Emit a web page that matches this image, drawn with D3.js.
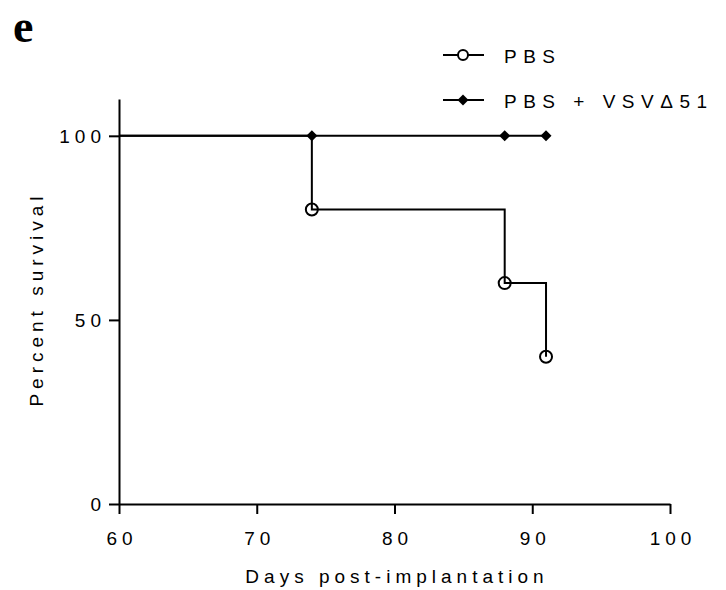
<!DOCTYPE html>
<html>
<head>
<meta charset="utf-8">
<script src="https://cdn.jsdelivr.net/npm/d3@7"></script>
<style>
  body { margin: 0; background: #fff; }
  svg { display: block; }
  text { font-family: "Liberation Sans", Arial, sans-serif; fill: #000; }
</style>
</head>
<body>
<script>
// survival data (Kaplan-Meier steps)
const pbsDays = [60, 74, 88, 91];
const pbsSurvival = [100, 80, 60, 40];
const vsvDays = [60, 74, 88, 91];
const vsvSurvival = [100, 100, 100, 100];

const xTicks = [60, 70, 80, 90, 100];
const yTicks = [0, 50, 100];
const seriesNames = ["PBS", "PBS + VSV\u039451"];

const W = 726, H = 590;
const LS = 5;       // letter spacing of axis text
const LEG_LS = 6.5; // letter spacing of legend text
const FS = "19px";

const svg = d3.select("body").append("svg")
    .attr("width", W)
    .attr("height", H);

const x = d3.scaleLinear().domain([60, 100]).range([119, 670]);
const y = d3.scaleLinear().domain([0, 110]).range([504, 99]);

// panel letter
svg.append("text")
    .attr("x", 13)
    .attr("y", 42)
    .style("font-family", "'Liberation Serif', 'Times New Roman', serif")
    .style("font-weight", "bold")
    .style("font-size", "46px")
    .text("e");

// x axis
const xAxis = svg.append("g")
    .attr("transform", `translate(0,${y(0)})`)
    .call(d3.axisBottom(x).tickValues(xTicks).tickSize(10).tickSizeOuter(0));
xAxis.select(".domain").attr("stroke-width", 2);
xAxis.selectAll(".tick line").attr("stroke-width", 2);
xAxis.selectAll(".tick text")
    .attr("y", 41).attr("dy", 0).attr("dx", LS / 2)
    .style("font-size", FS)
    .style("letter-spacing", LS + "px")
    .style("font-family", "'Liberation Sans', Arial, sans-serif");

// y axis
const yAxis = svg.append("g")
    .attr("transform", `translate(${x(60)},0)`)
    .call(d3.axisLeft(y).tickValues(yTicks).tickSize(10).tickSizeOuter(0));
yAxis.select(".domain").attr("stroke-width", 2);
yAxis.selectAll(".tick line").attr("stroke-width", 2);
yAxis.selectAll(".tick text")
    .attr("x", -13).attr("dy", "0.36em")
    .style("font-size", FS)
    .style("letter-spacing", LS + "px")
    .style("font-family", "'Liberation Sans', Arial, sans-serif");

// axis titles
svg.append("text")
    .attr("x", (x(60) + x(100)) / 2 + LS / 2)
    .attr("y", 583)
    .attr("text-anchor", "middle")
    .style("font-size", FS)
    .style("letter-spacing", LS + "px")
    .text("Days post-implantation");

svg.append("text")
    .attr("transform", `translate(43,${(y(0) + y(110)) / 2}) rotate(-90)`)
    .attr("text-anchor", "middle")
    .attr("dx", LS / 2)
    .style("font-size", FS)
    .style("letter-spacing", LS + "px")
    .text("Percent survival");

const stepLine = d3.line()
    .x(d => x(d[0]))
    .y(d => y(d[1]))
    .curve(d3.curveStepAfter);

const pbsData = pbsDays.map((d, i) => [d, pbsSurvival[i]]);
const vsvData = vsvDays.map((d, i) => [d, vsvSurvival[i]]);

// open circles first, lines drawn over them
svg.append("g")
    .selectAll("circle")
    .data(pbsData.slice(1))
    .join("circle")
    .attr("cx", d => x(d[0]))
    .attr("cy", d => y(d[1]))
    .attr("r", 6)
    .attr("fill", "#fff")
    .attr("stroke", "#000")
    .attr("stroke-width", 2);

svg.append("path")
    .datum(pbsData)
    .attr("d", stepLine)
    .attr("fill", "none")
    .attr("stroke", "#000")
    .attr("stroke-width", 2);

svg.append("path")
    .datum(vsvData)
    .attr("d", stepLine)
    .attr("fill", "none")
    .attr("stroke", "#000")
    .attr("stroke-width", 2);

const diamond = s => `M0,${-s}L${s},0L0,${s}L${-s},0Z`;

svg.append("g")
    .selectAll("path")
    .data(vsvData.slice(1))
    .join("path")
    .attr("transform", d => `translate(${x(d[0])},${y(d[1])})`)
    .attr("d", diamond(5.5))
    .attr("fill", "#000");

// legend
const legend = svg.append("g");
const rows = [{ name: seriesNames[0], yy: 55, type: "circle" },
              { name: seriesNames[1], yy: 100, type: "diamond" }];
rows.forEach(r => {
    legend.append("line")
        .attr("x1", 443).attr("x2", 484)
        .attr("y1", r.yy).attr("y2", r.yy)
        .attr("stroke", "#000").attr("stroke-width", 2);
    if (r.type === "circle") {
        legend.append("circle")
            .attr("cx", 463).attr("cy", r.yy).attr("r", 5)
            .attr("fill", "#fff").attr("stroke", "#000").attr("stroke-width", 2);
    } else {
        legend.append("path")
            .attr("transform", `translate(463,${r.yy})`)
            .attr("d", diamond(5.5))
            .attr("fill", "#000");
    }
    legend.append("text")
        .attr("x", 504)
        .attr("y", r.yy + 8)
        .style("font-size", FS)
        .style("letter-spacing", LEG_LS + "px")
        .text(r.name);
});
</script>
</body>
</html>
